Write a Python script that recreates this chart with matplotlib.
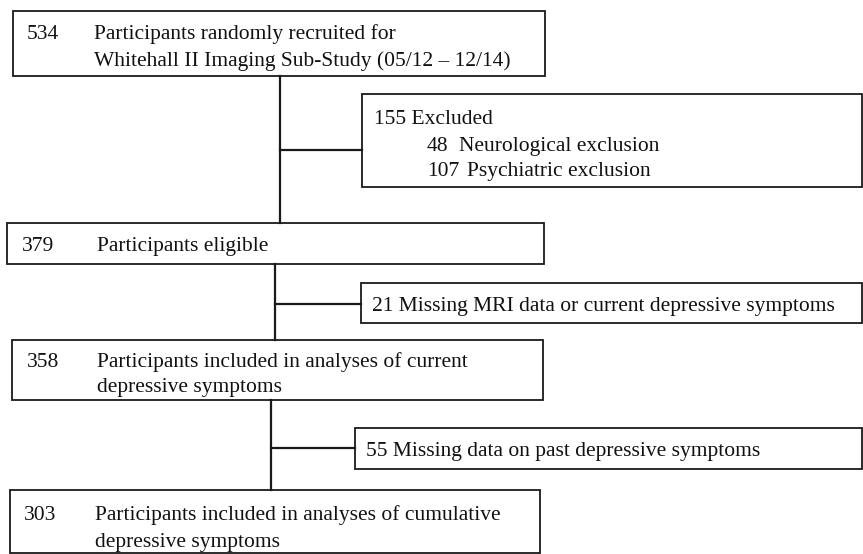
import matplotlib.pyplot as plt
from matplotlib.patches import Rectangle

# flow counts and labels
main_counts = ['534', '379', '358', '303']
main_labels = [
    ['Participants randomly recruited for', 'Whitehall II Imaging Sub-Study (05/12 \u2013 12/14)'],
    ['Participants eligible'],
    ['Participants included in analyses of current', 'depressive symptoms'],
    ['Participants included in analyses of cumulative', 'depressive symptoms'],
]
excl_counts = ['155', '21', '55']
excl_labels = ['Excluded', 'Missing MRI data or current depressive symptoms',
               'Missing data on past depressive symptoms']
sub_counts = ['48', '107']
sub_labels = ['Neurological exclusion', 'Psychiatric exclusion']

# layout in pixels (x0, y0, x1, y1), y grows downward
main_boxes = [(13, 11, 545, 76), (7, 223, 544, 264), (12, 340, 543, 400), (10, 490, 540, 553)]
count_x = [27, 22, 27, 24]
label_x = [94, 97, 97, 95]
main_base = [39, 251, 367, 520]
line_gap = [27, 27, 25, 27]
excl_boxes = [(362, 94, 862, 187), (361, 283, 862, 323), (355, 428, 862, 469)]
excl_base = [124, 311, 456]
stem_x = [280, 275, 271]
branch_y = [150, 304, 448]

FONT = 'Liberation Serif'
FS = 15.5
LC = '#1a1a1a'

fig = plt.figure(figsize=(8.63, 5.54), dpi=100)
ax = fig.add_axes([0, 0, 1, 1])
ax.set_xlim(0, 863)
ax.set_ylim(554, 0)
ax.axis('off')

def box(b, lw=1.3):
    x0, y0, x1, y1 = b
    ax.add_patch(Rectangle((x0, y0), x1 - x0, y1 - y0, fill=False, edgecolor=LC, lw=lw))

def txt(x, y, s):
    ax.text(x, y, s, fontsize=FS, family=FONT, va='baseline', ha='left', color='#111111')

for i, b in enumerate(main_boxes):
    box(b)
    txt(count_x[i], main_base[i], main_counts[i])
    for k, line in enumerate(main_labels[i]):
        txt(label_x[i], main_base[i] + k * line_gap[i], line)

for i, b in enumerate(excl_boxes):
    box(b)
    x0, y0, x1, y1 = b
    # connector: stem from box above to box below, branch to exclusion box
    ax.plot([stem_x[i], stem_x[i]], [main_boxes[i][3], main_boxes[i + 1][1]], color=LC, lw=1.6)
    ax.plot([stem_x[i], x0], [branch_y[i], branch_y[i]], color=LC, lw=1.6)
    txt(x0 + 12 if i == 0 else x0 + 11, excl_base[i], excl_counts[i] + ' ' + excl_labels[i])

sub_lx = [459, 467]
for j in range(len(sub_counts)):
    yy = excl_base[0] + 27 + j * 25
    txt(427, yy, sub_counts[j])
    txt(sub_lx[j], yy, sub_labels[j])

fig.savefig('out.png', dpi=100, facecolor='white')
